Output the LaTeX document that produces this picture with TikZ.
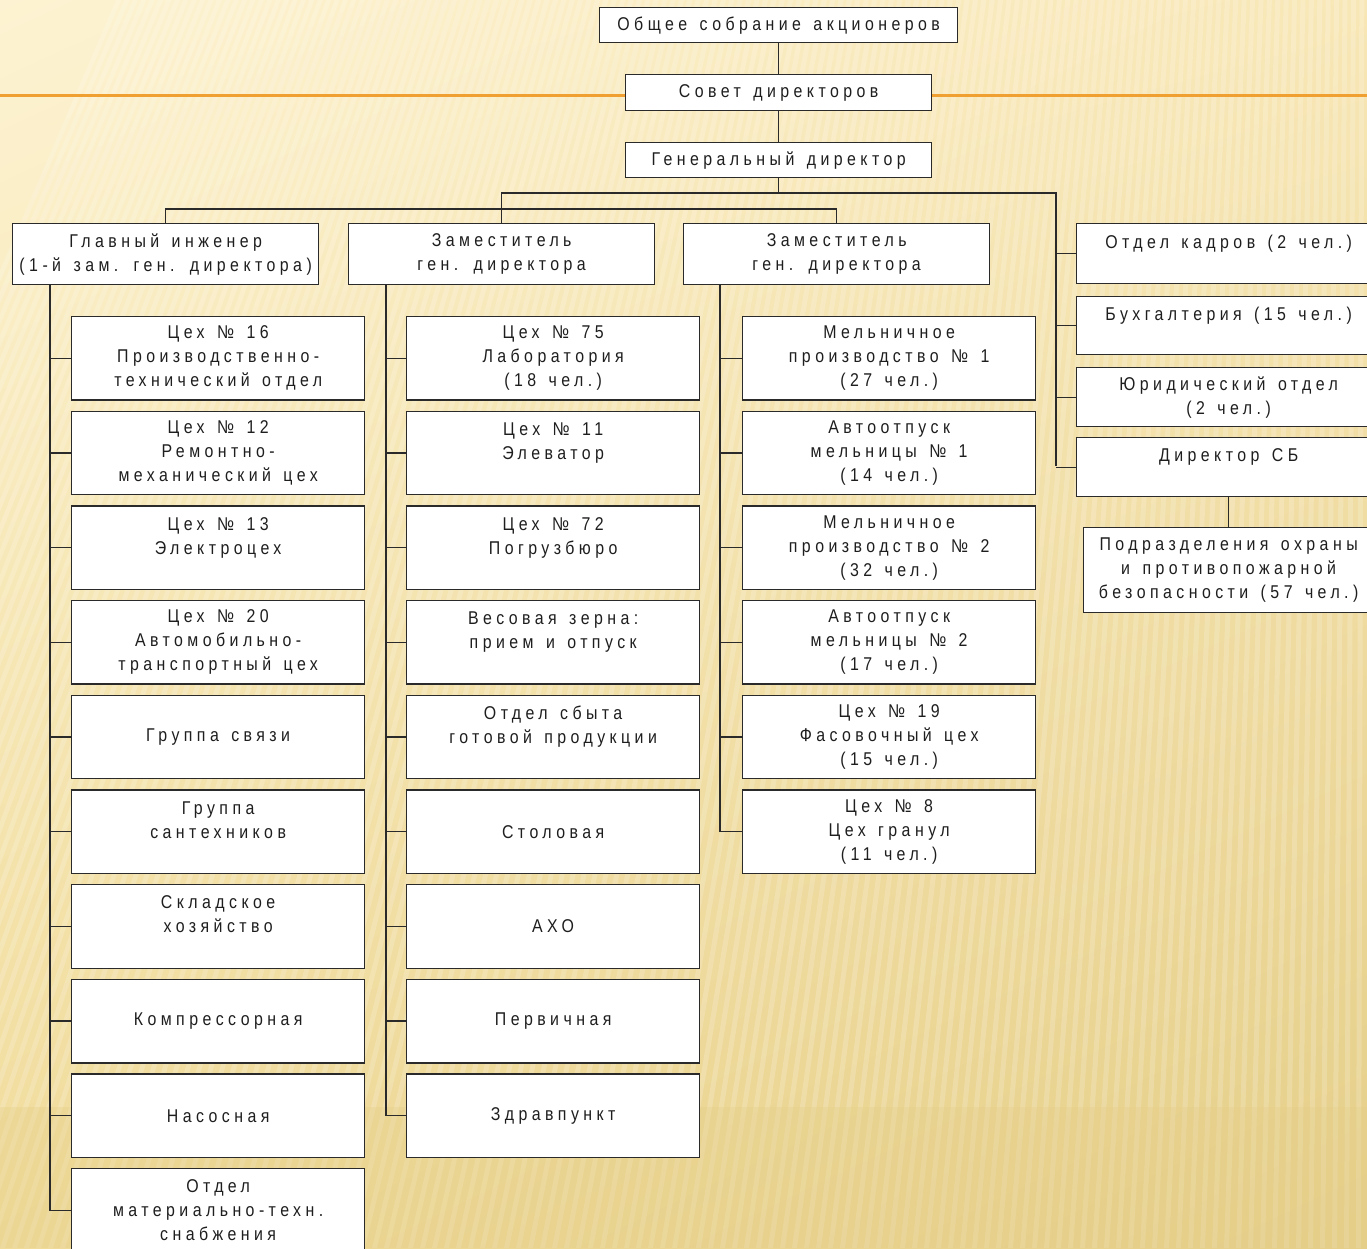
\documentclass[tikz,border=0pt]{standalone}
\usepackage{fontspec}
\setmainfont{Liberation Sans}[FakeStretch=0.86,LetterSpace=24,WordSpace=1.4]
\usetikzlibrary{shadings}
\definecolor{linecol}{HTML}{2A2A2A}
\definecolor{textcol}{HTML}{1E1E1E}
\definecolor{orangecol}{HTML}{F0A030}
\definecolor{bgA}{HTML}{FDF3D2}
\definecolor{bgB}{HTML}{F8E7B6}
\definecolor{bgC}{HTML}{F0DB9A}
\definecolor{bgD}{HTML}{E5CE88}
\begin{document}
\begin{tikzpicture}[x=1pt, y=-1pt,
    font=\fontsize{18.5}{24}\selectfont,
    box/.style={draw=linecol, fill=white, line width=1.3pt, inner sep=0pt,
        anchor=north west, align=center, text=textcol,
        minimum width=293, minimum height=83.5},
    headbox/.style={box, minimum width=306, minimum height=61},
    sidebox/.style={box, minimum width=304, minimum height=59},
    link/.style={draw=linecol, line width=1.3pt}]
    % Hintergrund
    \clip (0,0) rectangle (1367,1248);
    \shade[upper left=bgA, upper right=bgB, lower left=bgC, lower right=bgD]
        (0,0) rectangle (1367,1248);
    \foreach \s in {-420,-408,...,1370}
        \fill[white, opacity=0.18] (\s,1248) -- (\s+5,1248)
            -- ({\s+5+0.3*(1367-\s)},0) -- ({\s+0.3*(1367-\s)},0) -- cycle;
    \fill[bgD, opacity=0.35] (0,1107) rectangle (1367,1248);

    % Leitung
    \node[box, minimum width=358, minimum height=35] (osa) at (599,7) {Общее собрание акционеров};
    \node[box, minimum width=306, minimum height=36] (sd) at (625,74) {Совет директоров};
    \node[box, minimum width=306, minimum height=35] (gd) at (625,142) {Генеральный директор};
    \coordinate (ol) at (0,95);
    \coordinate (or) at (1367,95);
    \draw[orangecol, line width=3pt] (ol) -- (ol -| sd.west) (sd.east |- or) -- (or);
    \draw[link] (osa.south) -- (sd.north) (sd.south) -- (gd.north);

    % Stellvertreter
    \node[headbox] (gi) at (12,223) {Главный инженер\\(1-й зам. ген. директора)};
    \node[headbox] (za) at (348,223) {Заместитель\\ген. директора};
    \node[headbox] (zb) at (683,223) {Заместитель\\ген. директора};
    \coordinate (busA) at (1056,193);
    \coordinate (busB) at (0,209);
    \draw[link] (gd.south) -- (gd.south |- busA);
    \draw[link] (za.north) |- (busA) -- (busA |- 0,466);
    \draw[link] (gi.north) |- (busB -| zb.north) -- (zb.north);

    % Abteilungen rechts
    \node[sidebox, minimum height=60] (ok) at (1076,223) {Отдел кадров (2 чел.)\\~};
    \node[sidebox, minimum height=58] (buh) at (1076,296) {Бухгалтерия (15 чел.)\\~};
    \node[sidebox] (jur) at (1076,367) {Юридический отдел\\(2 чел.)};
    \node[sidebox] (dsb) at (1076,437) {Директор СБ\\~};
    \node[box, minimum width=290, minimum height=85] (ohr) at (1083,527)
        {Подразделения охраны\\и противопожарной\\безопасности (57 чел.)};
    \foreach \n in {ok,buh,jur,dsb}
        \draw[link] (\n.west) -- (\n.west -| busA);
    \draw[link] (dsb.south -| ohr.north) -- (ohr.north);

    % Spalte Hauptingenieur
    \node[box] (g1) at (71,315.8) {Цех № 16\\Производственно-\\технический отдел};
    \node[box] (g2) at (71,410.5) {Цех № 12\\Ремонтно-\\механический цех};
    \node[box] (g3) at (71,505.2) {Цех № 13\\Электроцех\\~};
    \node[box] (g4) at (71,599.9) {Цех № 20\\Автомобильно-\\транспортный цех};
    \node[box] (g5) at (71,694.6) {Группа связи};
    \node[box] (g6) at (71,789.3) {Группа\\сантехников\\~};
    \node[box] (g7) at (71,884.0) {Складское\\хозяйство\\~};
    \node[box] (g8) at (71,978.7) {Компрессорная};
    \node[box] (g9) at (71,1073.4) {Насосная};
    \node[box] (g10) at (71,1168.1) {Отдел\\материально-техн.\\снабжения};
    \foreach \i in {1,...,10}
        \draw[link] ([xshift=38pt]gi.south west) |- (g\i.west);

    % Spalte Stellvertreter 1
    \node[box] (a1) at (406,315.8) {Цех № 75\\Лаборатория\\(18 чел.)};
    \node[box] (a2) at (406,410.5) {Цех № 11\\Элеватор\\~};
    \node[box] (a3) at (406,505.2) {Цех № 72\\Погрузбюро\\~};
    \node[box] (a4) at (406,599.9) {Весовая зерна:\\прием и отпуск\\~};
    \node[box] (a5) at (406,694.6) {Отдел сбыта\\готовой продукции\\~};
    \node[box] (a6) at (406,789.3) {Столовая};
    \node[box] (a7) at (406,884.0) {АХО};
    \node[box] (a8) at (406,978.7) {Первичная};
    \node[box] (a9) at (406,1073.4) {Здравпункт};
    \foreach \i in {1,...,9}
        \draw[link] ([xshift=38pt]za.south west) |- (a\i.west);

    % Spalte Stellvertreter 2
    \node[box] (b1) at (742,315.8) {Мельничное\\производство № 1\\(27 чел.)};
    \node[box] (b2) at (742,410.5) {Автоотпуск\\мельницы № 1\\(14 чел.)};
    \node[box] (b3) at (742,505.2) {Мельничное\\производство № 2\\(32 чел.)};
    \node[box] (b4) at (742,599.9) {Автоотпуск\\мельницы № 2\\(17 чел.)};
    \node[box] (b5) at (742,694.6) {Цех № 19\\Фасовочный цех\\(15 чел.)};
    \node[box] (b6) at (742,789.3) {Цех № 8\\Цех гранул\\(11 чел.)};
    \foreach \i in {1,...,6}
        \draw[link] ([xshift=37pt]zb.south west) |- (b\i.west);
\end{tikzpicture}
\end{document}
